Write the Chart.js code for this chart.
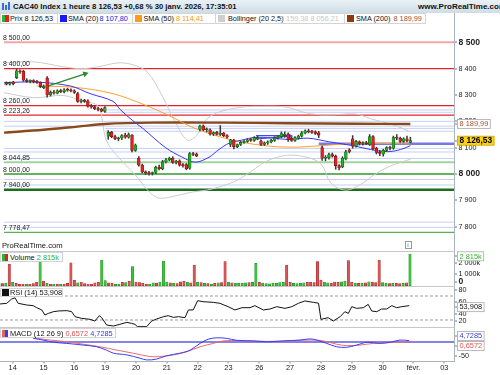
<!DOCTYPE html>
<html lang="fr">
<head>
<meta charset="utf-8">
<title>CAC40 Index 1 heure</title>
<script src="https://cdn.jsdelivr.net/npm/chart.js@4.4.1/dist/chart.umd.min.js"></script>
<style>
  body { margin: 0; background: #fff; font-family: "Liberation Sans", Arial, sans-serif; }
  #wrap { position: relative; width: 500px; height: 375px; overflow: hidden; background: #fff; }
  #wrap canvas { position: absolute; left: 0; }
  .t { position: absolute; white-space: nowrap; line-height: 1; color: #111; }
  .lg { font-size: 7.3px; top: 15.2px; }
  .box { position: absolute; background: #fff; border: 1px solid #d4d4d4; box-sizing: border-box; }
  .sq { position: absolute; width: 7px; height: 7px; }
</style>
</head>
<body>
<div id="wrap">
  <div style="position:absolute;left:0;top:0;width:500px;height:13px;background:linear-gradient(#eaf1f5,#cddde6);"></div>
  <div class="sq" style="left:2px;top:3px;width:2px;height:7px;background:#3a6fd8"></div>
  <div class="sq" style="left:5px;top:5px;width:2px;height:5px;background:#3a6fd8"></div>
  <div class="sq" style="left:8px;top:2px;width:2px;height:8px;background:#3a6fd8"></div>
  <div class="t" style="left:13px;top:2.5px;font-size:7.7px;font-weight:bold;">CAC40 Index 1 heure 8 126,53 +0,68 % 30 janv. 2026, 17:35:01</div>
  <div class="t" style="left:418px;top:2.5px;font-size:8px;font-weight:bold;">www.ProRealTime.com</div>

  <div class="box" style="left:0;top:13px;width:58px;height:11px"></div>
  <div class="box" style="left:57px;top:13px;width:76px;height:11px"></div>
  <div class="box" style="left:132px;top:13px;width:84px;height:11px"></div>
  <div class="box" style="left:215px;top:13px;width:130px;height:11px"></div>
  <div class="box" style="left:344px;top:13px;width:82px;height:11px"></div>
  <div class="sq" style="left:1.5px;top:15px;width:3.5px;background:#2db52d"></div>
  <div class="sq" style="left:5px;top:15px;width:3.5px;background:#e02020"></div>
  <div class="t lg" style="left:10px">Prix 8 126,53</div>
  <div class="sq" style="left:59.5px;top:15px;background:#1a1aff"></div>
  <div class="t lg" style="left:68px">SMA (20)</div>
  <div class="t lg" style="left:99.5px;color:#2020f0">8 107,80</div>
  <div class="sq" style="left:135px;top:15px;background:#ff9a1a"></div>
  <div class="t lg" style="left:143.5px">SMA (50)</div>
  <div class="t lg" style="left:176px;color:#ff9900">8 114,41</div>
  <div class="sq" style="left:218px;top:15px;background:#cfcfcf"></div>
  <div class="t lg" style="left:228px">Bollinger (20 2,5)</div>
  <div class="t lg" style="left:280px;color:#c8c8c8">8 159,38 8 056,21</div>
  <div class="sq" style="left:347px;top:15px;background:#8b3a0f"></div>
  <div class="t lg" style="left:356px">SMA (200)</div>
  <div class="t lg" style="left:393.5px;color:#a0522d">8 189,99</div>

  <canvas id="mainChart" width="500" height="222" style="top:28px"></canvas>
  <canvas id="volChart" width="500" height="35" style="top:251px"></canvas>
  <canvas id="rsiChart" width="500" height="41" style="top:286px"></canvas>
  <canvas id="macdChart" width="500" height="48" style="top:327px"></canvas>

  <div class="t" style="left:2px;top:242px;font-size:7.6px">ProRealTime.com</div>
  <div class="box" style="left:405px;top:241px;width:7px;height:8px;border-color:#999"></div>
  <div class="t" style="left:407.3px;top:242px;font-size:6px;color:#555">i</div>

  <div class="box" style="left:0;top:252px;width:63px;height:10px"></div>
  <div class="sq" style="left:1.5px;top:253.5px;width:3px;background:#2db52d"></div>
  <div class="sq" style="left:4.5px;top:253.5px;width:3px;background:#e02020"></div>
  <div class="t" style="left:10px;top:253.5px;font-size:7.4px">Volume <span style="color:#2db52d">2 815k</span></div>

  <div class="box" style="left:0;top:288px;width:63px;height:9px"></div>
  <div class="sq" style="left:1.5px;top:289px;background:#111"></div>
  <div class="t" style="left:10px;top:289px;font-size:7.4px">RSI (14) 53,908</div>

  <div class="box" style="left:0;top:328px;width:116px;height:10px"></div>
  <div class="sq" style="left:1.5px;top:329.5px;width:3px;background:#e86060"></div>
  <div class="sq" style="left:4.5px;top:329.5px;width:3px;background:#3a3af0"></div>
  <div class="t" style="left:10px;top:329.5px;font-size:7.4px">MACD (12 26 9) <span style="color:#e05050">0,6572</span> <span style="color:#3a3ae0">4,7285</span></div>

  <div style="position:absolute;left:454px;top:13px;width:1px;height:348px;background:#a7b5bd"></div>
  <div style="position:absolute;left:0;top:251px;width:455px;height:1px;background:#c8c8c8"></div>
  <div style="position:absolute;left:0;top:286px;width:455px;height:1px;background:#c8c8c8"></div>
  <div style="position:absolute;left:0;top:327px;width:455px;height:1px;background:#c8c8c8"></div>
  <div style="position:absolute;left:0;top:361px;width:455px;height:1px;background:#a7b5bd"></div>
</div>

<script>
    // bar 0 = 14 janv. 9h, 9 hourly bars per day
    const firstBar = -4;
    const barsPerDay = 9;
    const dayLabels = ['14', '15', '16', '19', '20', '21', '22', '23', '26', '27', '28', '29', '30', 'févr.', '03'];

    // [open, high, low, close]
    const candles = [
        [8340, 8348, 8335, 8343], [8343, 8350, 8338, 8341], [8341, 8349, 8337, 8346], [8349, 8352, 8338, 8343],
        // 14
        [8366, 8398, 8362, 8392], [8392, 8396, 8382, 8388], [8390, 8394, 8352, 8356], [8356, 8362, 8348, 8352], [8352, 8358, 8346, 8355],
        [8355, 8358, 8346, 8350], [8350, 8356, 8344, 8348], [8348, 8350, 8328, 8332], [8328, 8338, 8324, 8334],
        // 15
        [8364, 8370, 8292, 8300], [8300, 8316, 8296, 8310], [8310, 8318, 8303, 8307], [8307, 8320, 8304, 8316], [8316, 8322, 8309, 8313],
        [8313, 8324, 8308, 8320], [8320, 8326, 8314, 8318], [8318, 8323, 8312, 8316], [8316, 8320, 8306, 8310],
        // 16
        [8305, 8310, 8272, 8276], [8276, 8285, 8270, 8281], [8281, 8284, 8272, 8276], [8278, 8282, 8254, 8258], [8258, 8264, 8250, 8255],
        [8255, 8260, 8244, 8248], [8248, 8253, 8240, 8245], [8246, 8250, 8236, 8239], [8238, 8256, 8234, 8252],
        // 19
        [8144, 8165, 8132, 8158], [8158, 8162, 8138, 8142], [8142, 8148, 8130, 8134], [8134, 8140, 8126, 8137], [8137, 8150, 8130, 8146],
        [8148, 8155, 8136, 8140], [8140, 8156, 8136, 8150], [8148, 8150, 8084, 8090], [8090, 8114, 8086, 8110],
        // 20
        [8060, 8066, 8030, 8034], [8034, 8038, 8004, 8008], [8008, 8012, 7998, 8004], [8004, 8010, 7996, 8002], [8002, 8008, 7996, 8006],
        [8006, 8030, 8002, 8026], [8026, 8034, 8016, 8020], [8020, 8052, 8016, 8046], [8046, 8060, 8042, 8054],
        // 21
        [8054, 8064, 8050, 8060], [8060, 8066, 8040, 8044], [8044, 8052, 8038, 8048], [8050, 8054, 8030, 8034], [8034, 8040, 8026, 8032],
        [8036, 8040, 8016, 8020], [8022, 8082, 8018, 8078], [8078, 8082, 8070, 8074], [8076, 8080, 8066, 8068],
        // 22
        [8170, 8186, 8164, 8182], [8182, 8186, 8164, 8168], [8168, 8175, 8160, 8171], [8168, 8172, 8148, 8152], [8152, 8160, 8146, 8157],
        [8158, 8162, 8148, 8150], [8150, 8184, 8146, 8155], [8155, 8158, 8142, 8146], [8146, 8150, 8136, 8140],
        // 23
        [8112, 8132, 8104, 8130], [8128, 8132, 8095, 8104], [8104, 8114, 8100, 8112], [8112, 8124, 8108, 8120], [8120, 8128, 8116, 8124],
        [8124, 8134, 8120, 8130], [8130, 8136, 8124, 8128], [8128, 8142, 8124, 8138], [8134, 8144, 8130, 8138],
        // 26
        [8126, 8130, 8108, 8112], [8112, 8122, 8108, 8118], [8118, 8126, 8112, 8122], [8122, 8132, 8118, 8128], [8128, 8142, 8124, 8138],
        [8138, 8146, 8132, 8142], [8142, 8160, 8138, 8154], [8148, 8160, 8140, 8152], [8152, 8156, 8124, 8130],
        // 27
        [8136, 8140, 8124, 8128], [8128, 8142, 8124, 8138], [8136, 8148, 8132, 8144], [8144, 8162, 8140, 8156], [8156, 8168, 8152, 8164],
        [8164, 8170, 8156, 8160], [8160, 8166, 8154, 8158], [8160, 8164, 8150, 8154], [8156, 8162, 8138, 8148],
        // 28
        [8100, 8106, 8052, 8060], [8060, 8070, 8050, 8064], [8062, 8080, 8056, 8074], [8074, 8080, 8064, 8068], [8068, 8072, 8018, 8032],
        [8032, 8036, 8016, 8024], [8028, 8066, 8024, 8060], [8058, 8090, 8054, 8084], [8092, 8096, 8080, 8086],
        // 29
        [8134, 8146, 8098, 8106], [8106, 8128, 8102, 8124], [8122, 8126, 8110, 8116], [8116, 8122, 8110, 8119], [8118, 8124, 8112, 8114],
        [8112, 8150, 8108, 8142], [8142, 8146, 8092, 8096], [8098, 8102, 8076, 8082], [8082, 8090, 8070, 8078],
        // 30
        [8076, 8094, 8068, 8090], [8090, 8104, 8086, 8100], [8100, 8106, 8092, 8098], [8098, 8144, 8094, 8138], [8138, 8150, 8130, 8136],
        [8136, 8140, 8120, 8124], [8124, 8138, 8120, 8134], [8134, 8144, 8122, 8126], [8120, 8140, 8118, 8126.53]
    ];

    // volume in thousands
    const volumes = [
        200, 180, 220, 1925,
        300, 200, 150, 130, 150, 120, 180, 300, 2800,
        415, 200, 130, 120, 150, 130, 150, 200, 2040,
        470, 250, 330, 180, 120, 150, 250, 300, 2280,
        445, 250, 200, 150, 150, 300, 280, 380, 1690,
        330, 270, 200, 150, 150, 250, 200, 330, 2190,
        330, 250, 200, 180, 350, 400, 330, 250, 1835,
        330, 280, 200, 180, 150, 200, 250, 270, 2130,
        330, 250, 220, 200, 200, 250, 270, 300, 1985,
        300, 200, 180, 170, 200, 220, 270, 300, 1835,
        300, 200, 180, 200, 250, 300, 300, 280, 2130,
        500, 330, 250, 200, 330, 300, 350, 400, 2220,
        330, 230, 200, 200, 250, 350, 330, 280, 2280,
        270, 200, 180, 200, 200, 180, 200, 250, 2815
    ];

    // indicators: [bar, value]
    const sma20 = [[-3.7, 8347], [5.9, 8349], [15.9, 8334], [21.7, 8305], [28.4, 8276], [30.5, 8245], [34.2, 8203], [37.2, 8173],
        [43.9, 8100], [48.8, 8064], [52.6, 8045], [56.7, 8064], [59.6, 8093], [62.6, 8117], [66.4, 8129], [70.2, 8139], [75.1, 8137],
        [80.1, 8131], [85.9, 8136], [91.8, 8123], [99.4, 8107], [104.3, 8093], [109.3, 8085], [113.1, 8093], [116, 8107.8]];
    const sma50 = [[5.9, 8334], [17.3, 8329], [28.4, 8305], [37.2, 8265], [45.05, 8221], [52.6, 8173], [62.6, 8132], [72.2, 8109],
        [81, 8102], [89.1, 8107], [95.6, 8113], [104.3, 8116.5], [116, 8114.4]];
    const sma200 = [[-3.7, 8157], [8, 8168], [18, 8180], [26, 8190], [40, 8195], [60, 8195], [80, 8193], [100, 8191], [116, 8190]];
    const bollUpper = [[-3.7, 8422], [5.05, 8426], [13.8, 8407], [19.6, 8400], [25.5, 8411], [29.9, 8422], [34.2, 8415], [38.6, 8386],
        [43, 8294], [46.5, 8203], [50.3, 8129], [53.2, 8148], [56.1, 8210], [60.5, 8239], [66.4, 8254], [72.2, 8257], [79.5, 8254],
        [85.3, 8232], [91.2, 8224], [99.9, 8228], [104.3, 8210], [111.6, 8184], [116, 8159.4]];
    const bollLower = [[-3.7, 8309], [5.05, 8290], [13.8, 8298], [19.6, 8276], [24, 8257], [26.4, 8129], [29.3, 8074], [35.1, 7994],
        [38.6, 7939], [41.5, 7910], [45.05, 7912], [51.8, 7932], [56.1, 7939], [60.5, 7954], [64.9, 7976], [69.3, 8012], [73.7, 8049],
        [79.5, 8071], [85.3, 8064], [89.7, 8038], [92.6, 7965], [97, 7939], [101.4, 7961], [105.8, 8001], [110.2, 8031], [116, 8056.2]];
    const rsi = [[-3.7, 56.7], [-1.75, 57.8], [-0.3, 65], [0.67, 67], [1.6, 57.8], [4.1, 55], [6, 53.9], [7, 50.5], [8.5, 46.7],
        [9.4, 38.3], [10.4, 41], [11.9, 43.9], [13.3, 45], [15.8, 45.6], [17.2, 43.9], [18.2, 35.5], [20.1, 32.8], [22.6, 31.1],
        [24, 28.3], [25.3, 37.2], [26, 33.9], [27.4, 21.7], [29.4, 20], [31.3, 22.8], [33.3, 26.1], [34.7, 24.4], [35.7, 22.8],
        [36.4, 18.9], [39.1, 18.9], [40.6, 28.3], [42, 31.7], [44, 35.5], [45.4, 37.2], [46.9, 34.4], [48.4, 35.5], [50.3, 33.9],
        [51.3, 46.7], [52.7, 46.7], [54, 62.2], [55.6, 60.5], [58.6, 59.4], [60.5, 57.8], [62.9, 52.2], [64.9, 46.7], [66.9, 50.5],
        [69.3, 50.5], [70.7, 53.9], [73.2, 46.7], [75.1, 48.3], [77.1, 52.2], [79.5, 49.4], [81.5, 52.2], [83.4, 57.8], [85.3, 61.7],
        [87.8, 59.4], [89.3, 58], [90, 31.1], [92.1, 33.9], [93.6, 28.3], [95.6, 35.5], [97, 43.9], [98, 41], [99, 52.2], [100.4, 49.4],
        [102.4, 50.5], [103.8, 56.1], [104.8, 45], [106.3, 43.9], [107.7, 48.3], [109.2, 48.3], [110.7, 53.9], [112.1, 50.5],
        [113.6, 52.2], [115.8, 53.908]];
    const macdLine = [[6, 13], [8.9, 7], [11.9, -1], [15.8, -5], [20.6, -11], [24.5, -17], [27.4, -29], [29.4, -40], [33.3, -46],
        [37.2, -58], [39.1, -64], [42, -61], [45, -49], [48.8, -40], [51.8, -29], [54.7, -5], [57.1, 10], [59.6, 15], [62.5, 13],
        [65.4, 6], [70.2, 4], [74.2, 1], [79, 4], [83.9, 7], [86.8, 11], [88.8, 7], [91.7, -5], [94.6, -17], [97.5, -19],
        [100.4, -11], [103.4, -1], [107.2, -5], [110.2, -1], [113.1, 7], [115.8, 4.7285]];
    const macdSignal = [[6, 15], [10.9, 7], [15.8, 1], [20.6, -8], [25.5, -17], [30.4, -29], [35.2, -40], [40.1, -52], [43, -52],
        [46.9, -46], [50.8, -35], [54.7, -17], [58.6, -5], [61.5, 4], [66.4, 5], [74.2, 2], [81, 4], [86.8, 7], [90.7, 4],
        [94.6, -8], [97.5, -13], [101.4, -11], [105.3, -5], [110.2, -2], [115.8, 0.6572]];

    // horizontal levels
    const resistances = [8500, 8400, 8260, 8223.26];
    const supports = [8044.85, 8000, 7940, 7778.47];
    const minorLevels = [8200, 8181.8, 8097.2, 8083.6, 8059.1, 7979.3, 7958.5, 7817.3, 7797.5];
    const minorLevelsRight = [8243.5, 8234.4, 8173.3, 8162.3];
    const blueLevel = 8115;
    const priceTicks = [8500, 8400, 8300, 8200, 8100, 8000, 7900, 7800];
    const rsiTicks = [80, 60, 40, 20];
    const macdTicks = [-50];
    const lastPrice = 8126.53;
    const lastSma200 = 8189.99;
    const lastVolume = 2815;
    const lastRsi = 53.908;
    const lastMacd = 4.7285;
    const lastSignal = 0.6572;
    const greenArrow = [[8.9, 8333], [20.2, 8380]];
    const blueDrawing = [[70.5, 8146], [80.6, 8146]];
    const blueDrawing2 = [[70.5, 8133], [80.6, 8144]];

    const xMin = -3.71, xMax = 128.85;
    const barX = i => firstBar + i;

    const fmt = (v, dec) => {
        let s = Math.abs(v).toFixed(dec).split('.');
        let t = s[0].replace(/\B(?=(\d{3})+(?!\d))/g, ' ');
        return (v < 0 ? '-' : '') + (s[1] ? t + ',' + s[1] : t);
    };
    const pts = arr => arr.map(p => ({ x: p[0], y: p[1] }));
    const hline = (v, from) => [{ x: from === undefined ? xMin : from, y: v }, { x: xMax, y: v }];

    let baseOptions = (yMin, yMax, padBottom) => ({
        responsive: false,
        animation: false,
        devicePixelRatio: 1,
        layout: { padding: { left: 0, right: 46, top: 0, bottom: padBottom || 0 } },
        plugins: { legend: { display: false }, tooltip: { enabled: false } },
        scales: {
            x: { type: 'linear', min: xMin, max: xMax, display: false, offset: false },
            y: { type: 'linear', min: yMin, max: yMax, display: false }
        },
        elements: { point: { radius: 0 } }
    });

    let tickLabel = (ctx, text, y, bold, color) => {
        ctx.font = bold ? 'bold 8.6px "Liberation Sans"' : '7.2px "Liberation Sans"';
        ctx.fillStyle = color || '#222';
        ctx.textBaseline = 'middle';
        ctx.fillText(text, 458.5, y);
        ctx.fillStyle = '#777';
        ctx.fillRect(454, Math.round(y) - 0.5, 3, 1);
    };
    let boxLabel = (ctx, text, y, fg, bg, bold) => {
        ctx.font = bold ? 'bold 8.4px "Liberation Sans"' : '7.4px "Liberation Sans"';
        let w = ctx.measureText(text).width + 4;
        ctx.fillStyle = bg;
        ctx.fillRect(457.5, y - 4.5, w, 9);
        ctx.strokeStyle = bold ? '#c9a400' : '#aaa';
        ctx.lineWidth = 0.8;
        ctx.strokeRect(457.5, y - 4.5, w, 9);
        ctx.fillStyle = fg;
        ctx.textBaseline = 'middle';
        ctx.fillText(text, 459.5, y + 0.3);
        ctx.fillStyle = '#777';
        ctx.fillRect(454, Math.round(y) - 0.5, 3, 1);
    };

    // ---------- main price panel ----------
    let up = c => c[3] >= c[0];
    let bodies = candles.map((c, i) => ({ x: barX(i), y: [c[0], c[3]] }));
    let wicks = candles.map((c, i) => ({ x: barX(i), y: [c[2], c[1]] }));

    let levelSets = [];
    let resColors = ['#f4a6a6', '#e3262b', '#e3262b', '#e3262b'];
    let resWidths = [2, 1.2, 1.2, 1.2];
    resistances.forEach((v, k) => levelSets.push({ type: 'line', data: hline(v), borderColor: resColors[k], borderWidth: resWidths[k], order: 20 }));
    let supColors = ['#a3d3a3', '#2f9a2f', '#1b6e1b', '#5aae5a'];
    let supWidths = [2, 1.5, 2.5, 1.2];
    supports.forEach((v, k) => levelSets.push({ type: 'line', data: hline(v), borderColor: supColors[k], borderWidth: supWidths[k], order: 20 }));
    minorLevels.forEach(v => levelSets.push({ type: 'line', data: hline(v), borderColor: 'rgba(150,170,235,0.55)', borderWidth: 1, order: 21 }));
    minorLevelsRight.forEach(v => levelSets.push({ type: 'line', data: hline(v, 26), borderColor: 'rgba(150,170,235,0.55)', borderWidth: 1, order: 21 }));
    levelSets.push({ type: 'line', data: hline(blueLevel, 89), borderColor: 'rgba(95,95,230,0.85)', borderWidth: 2.6, order: 8 });

    let mainLabels = {
        id: 'mainLabels',
        afterDraw(chart) {
            const ctx = chart.ctx, y = chart.scales.y;
            ctx.save();
            ctx.font = '6.9px "Liberation Sans"';
            ctx.fillStyle = '#222';
            ctx.textBaseline = 'alphabetic';
            resistances.concat(supports).forEach(v => ctx.fillText(fmt(v, 2), 3, y.getPixelForValue(v) - 2.5));
            priceTicks.forEach(v => tickLabel(ctx, fmt(v, 0), y.getPixelForValue(v), v % 500 === 0));
            boxLabel(ctx, fmt(lastSma200, 2), y.getPixelForValue(lastSma200), '#a0522d', '#fff', false);
            boxLabel(ctx, fmt(lastPrice, 2), y.getPixelForValue(lastPrice), '#000', '#ffd21a', true);
            ctx.restore();
        }
    };

    new Chart(document.getElementById('mainChart'), {
        type: 'bar',
        data: {
            datasets: [
                {
                    data: bodies, grouped: false, barThickness: 2.8, minBarLength: 1, borderWidth: 0.6, borderSkipped: false,
                    backgroundColor: candles.map(c => up(c) ? '#25b025' : '#e32020'),
                    borderColor: candles.map(c => up(c) ? '#0f5c0f' : '#7c1010'), order: 1
                },
                { data: wicks, grouped: false, barThickness: 0.9, backgroundColor: '#3a3a3a', order: 2 },
                {
                    type: 'line', data: pts(greenArrow), borderColor: '#2a8a2a', borderWidth: 1.4, order: 3,
                    pointRadius: [0, 3.5], pointStyle: 'triangle', pointRotation: 72, pointBackgroundColor: '#2a8a2a', pointBorderWidth: 0
                },
                { type: 'line', data: pts(blueDrawing), borderColor: '#4848e8', borderWidth: 1.2, order: 3 },
                {
                    type: 'line', data: pts(blueDrawing2), borderColor: '#4848e8', borderWidth: 1.2, order: 3,
                    pointRadius: [0, 3], pointStyle: 'triangle', pointRotation: 90, pointBackgroundColor: '#4848e8', pointBorderWidth: 0
                },
                { type: 'line', data: pts(sma20), borderColor: '#3535f5', borderWidth: 1, tension: 0.35, order: 4 },
                { type: 'line', data: pts(sma50), borderColor: '#ffa030', borderWidth: 1, tension: 0.35, order: 5 },
                { type: 'line', data: pts(sma200), borderColor: '#8b4a1c', borderWidth: 2.4, tension: 0.35, order: 6 },
                { type: 'line', data: pts(bollUpper), borderColor: '#cccccc', borderWidth: 1, tension: 0.35, order: 7 },
                { type: 'line', data: pts(bollLower), borderColor: '#cccccc', borderWidth: 1, tension: 0.35, order: 7 }
            ].concat(levelSets)
        },
        options: baseOptions(7726.85, 8539.15),
        plugins: [mainLabels]
    });

    // ---------- volume ----------
    let volLabels = {
        id: 'volLabels',
        afterDraw(chart) {
            const ctx = chart.ctx, y = chart.scales.y;
            ctx.save();
            tickLabel(ctx, '2 000k', y.getPixelForValue(2000), false);
            tickLabel(ctx, '1 000k', y.getPixelForValue(1000), false);
            tickLabel(ctx, '0', y.getPixelForValue(0) - 4, true);
            boxLabel(ctx, fmt(lastVolume, 0) + 'k', 5.3, '#2db52d', '#fff', false);
            ctx.restore();
        }
    };
    new Chart(document.getElementById('volChart'), {
        type: 'bar',
        data: {
            datasets: [{
                data: volumes.map((v, i) => ({ x: barX(i), y: v })), grouped: false, barThickness: 2.4, borderWidth: 0.5, borderSkipped: false,
                backgroundColor: candles.map(c => up(c) ? '#3cc23c' : '#d95454'),
                borderColor: candles.map(c => up(c) ? '#1e8a1e' : '#a02a2a')
            }]
        },
        options: baseOptions(-26.6, 3079.8),
        plugins: [volLabels]
    });

    // ---------- RSI ----------
    let rsiLabels = {
        id: 'rsiLabels',
        afterDraw(chart) {
            const ctx = chart.ctx, y = chart.scales.y;
            ctx.save();
            rsiTicks.forEach(v => tickLabel(ctx, String(v), v === 20 ? y.getPixelForValue(v) - 5 : y.getPixelForValue(v), false));
            boxLabel(ctx, fmt(lastRsi, 3), y.getPixelForValue(lastRsi) + 1.5, '#111', '#fff', false);
            ctx.restore();
        }
    };
    new Chart(document.getElementById('rsiChart'), {
        type: 'line',
        data: {
            datasets: [
                { data: pts(rsi), borderColor: '#111', borderWidth: 1, tension: 0 },
                { data: hline(70), borderColor: '#9a9a9a', borderWidth: 1, borderDash: [3, 2] },
                { data: hline(30), borderColor: '#9a9a9a', borderWidth: 1, borderDash: [3, 2] }
            ]
        },
        options: baseOptions(18.33, 86.67),
        plugins: [rsiLabels]
    });

    // ---------- MACD + time axis ----------
    let macdLabels = {
        id: 'macdLabels',
        afterDraw(chart) {
            const ctx = chart.ctx, y = chart.scales.y, x = chart.scales.x;
            ctx.save();
            macdTicks.forEach(v => tickLabel(ctx, fmt(v, 0), y.getPixelForValue(v), false));
            boxLabel(ctx, fmt(lastMacd, 4), 9, '#3a3ae0', '#fff', false);
            boxLabel(ctx, fmt(lastSignal, 4), 19, '#e05050', '#fff', false);
            ctx.font = '7.4px "Liberation Sans"';
            ctx.textAlign = 'center';
            ctx.textBaseline = 'middle';
            dayLabels.forEach((d, k) => {
                let px = x.getPixelForValue(k * barsPerDay);
                ctx.fillStyle = '#222';
                ctx.fillText(d, px, 40.7);
                ctx.fillStyle = '#888';
                ctx.fillRect(Math.round(px) - 0.5, 34, 1, 2.5);
            });
            ctx.restore();
        }
    };
    new Chart(document.getElementById('macdChart'), {
        type: 'line',
        data: {
            datasets: [
                { data: pts(macdLine), borderColor: '#3d3df0', borderWidth: 1, tension: 0.35 },
                { data: pts(macdSignal), borderColor: '#ef6a6a', borderWidth: 1, tension: 0.35 },
                { data: hline(0), borderColor: '#5a5ae0', borderWidth: 1.4 }
            ]
        },
        options: baseOptions(-67.86, 53.57, 14),
        plugins: [macdLabels]
    });
</script>
</body>
</html>
